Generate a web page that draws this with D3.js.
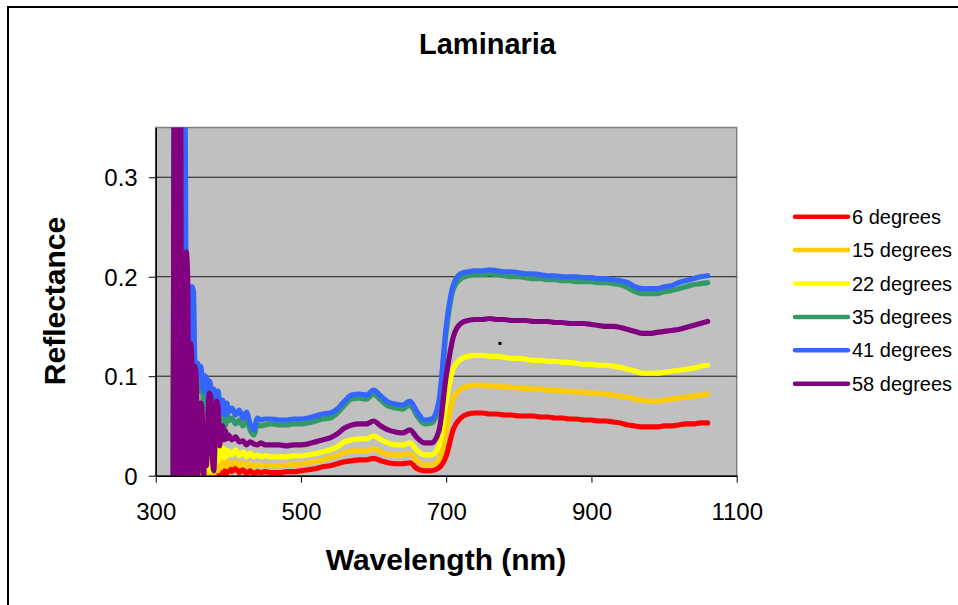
<!DOCTYPE html>
<html>
<head>
<meta charset="utf-8">
<script src="https://cdn.jsdelivr.net/npm/d3@7/dist/d3.min.js"></script>
<style>
  body { margin: 0; background: #fff; }
  svg { display: block; font-family: "Liberation Sans", Arial, sans-serif; }
</style>
</head>
<body>
<svg id="chart"></svg>
<script>
// wavelength grid (nm): fine steps in the noisy UV part, coarser later
const wavelengths = [
  324, 326, 328, 330, 332, 334, 336, 338, 340, 342, 344, 346, 348, 350, 352, 354, 356, 358, 360, 362,
  364, 366, 368, 370, 372, 374, 376, 378, 380, 382, 384, 386, 388, 390, 392, 394, 396, 398, 400,
  405, 410, 415, 420, 425, 430, 435, 440, 445, 450,
  460, 470, 480, 490, 500, 510, 520, 530, 540, 550, 560, 570, 580, 590, 600, 610, 620, 630, 640, 650,
  660, 670, 680, 690, 700, 710, 720, 730, 740, 750, 760, 770, 780, 790, 800, 810, 820, 830, 840, 850,
  860, 870, 880, 890, 900, 910, 920, 930, 940, 950, 960, 970, 980, 990, 1000, 1010, 1020, 1030, 1040, 1050,
  1060
];

const deg6 = [
  0, 0.2, 0, 0.25, 0, 0.2, 0, 0, -0.01, 0, -0.01, 0, -0.01, 0, -0.01, 0, -0.01, 0, -0.01, 0,
  -0.01, 0, -0.01, 0.002, -0.01, 0, -0.01, 0.003, -0.01, 0.004, -0.005, 0, -0.005, 0, 0.005, 0, 0.008, 0.002, 0.009,
  0.004, 0.008, 0.003, 0.006, 0.002, 0.005, 0.002, 0.004, 0.003, 0.004,
  0.003, 0.003, 0.004, 0.004, 0.005, 0.006, 0.007, 0.009, 0.010, 0.012, 0.014, 0.015, 0.016, 0.016, 0.0175, 0.015, 0.013, 0.012, 0.012, 0.013,
  0.007, 0.005, 0.005, 0.008, 0.020, 0.047, 0.058, 0.062, 0.063, 0.063, 0.062, 0.062, 0.061, 0.061, 0.060, 0.060, 0.060, 0.059, 0.059, 0.058,
  0.058, 0.057, 0.057, 0.056, 0.056, 0.055, 0.055, 0.054, 0.053, 0.051, 0.050, 0.049, 0.049, 0.049, 0.050, 0.050, 0.051, 0.052, 0.052, 0.053,
  0.053
];

const deg15 = [
  0, 0.3, 0, 0.35, 0, 0.25, 0, 0.03, 0, 0.005, 0, 0.015, 0, 0.012, 0, 0.01, 0, 0.015, 0, 0.01,
  0, 0.012, 0, 0.01, 0, 0.015, 0.005, 0.012, 0, 0.025, 0.02, 0.005, 0.018, 0.008, 0.016, 0.01, 0.015, 0.009, 0.014,
  0.011, 0.014, 0.010, 0.013, 0.010, 0.012, 0.009, 0.011, 0.010, 0.010,
  0.010, 0.010, 0.011, 0.011, 0.012, 0.013, 0.014, 0.016, 0.018, 0.020, 0.023, 0.025, 0.025, 0.025, 0.027, 0.024, 0.021, 0.021, 0.021, 0.022,
  0.015, 0.011, 0.011, 0.016, 0.045, 0.078, 0.087, 0.090, 0.091, 0.091, 0.090, 0.090, 0.089, 0.089, 0.088, 0.088, 0.087, 0.087, 0.086, 0.086,
  0.085, 0.085, 0.084, 0.084, 0.083, 0.083, 0.082, 0.081, 0.080, 0.079, 0.077, 0.076, 0.075, 0.075, 0.076, 0.077, 0.078, 0.079, 0.080, 0.081,
  0.082
];

const deg22 = [
  0, 0.35, 0, 0.4, 0, 0.3, 0, 0.05, 0, 0.01, 0, 0.028, 0.02, 0, 0.025, 0.005, 0.02, 0, 0.015, 0.022,
  0, 0.018, 0.005, 0.02, 0.01, 0.025, 0.005, 0.02, 0.01, 0.045, 0.04, 0.015, 0.03, 0.02, 0.028, 0.018, 0.026, 0.02, 0.025,
  0.021, 0.026, 0.020, 0.024, 0.019, 0.023, 0.019, 0.021, 0.019, 0.020,
  0.019, 0.019, 0.019, 0.020, 0.020, 0.021, 0.022, 0.024, 0.026, 0.029, 0.034, 0.036, 0.037, 0.037, 0.040, 0.036, 0.033, 0.031, 0.031, 0.033,
  0.025, 0.021, 0.021, 0.030, 0.075, 0.108, 0.117, 0.120, 0.121, 0.121, 0.120, 0.120, 0.119, 0.118, 0.118, 0.117, 0.116, 0.116, 0.115, 0.115,
  0.114, 0.114, 0.113, 0.112, 0.112, 0.111, 0.111, 0.110, 0.109, 0.107, 0.105, 0.103, 0.103, 0.103, 0.104, 0.105, 0.106, 0.107, 0.108, 0.110,
  0.111
];

const deg35 = [
  0, 0.4, 0, 0.45, 0, 0.45, 0.03, 0.15, 0.3, 0.1, 0.11, 0.08, 0.12, 0.17, 0.15, 0.1, 0.095, 0.1, 0.085, 0.1,
  0.095, 0.07, 0.1, 0.09, 0.06, 0.088, 0.072, 0.05, 0.08, 0.075, 0.052, 0.078, 0.062, 0.05, 0.068, 0.06, 0.05, 0.064, 0.055,
  0.058, 0.052, 0.056, 0.050, 0.055, 0.046, 0.041, 0.051, 0.050, 0.051,
  0.052, 0.051, 0.051, 0.052, 0.052, 0.053, 0.055, 0.057, 0.058, 0.063, 0.071, 0.077, 0.078, 0.077, 0.082, 0.076, 0.070, 0.068, 0.067, 0.071,
  0.060, 0.052, 0.053, 0.070, 0.145, 0.188, 0.198, 0.201, 0.202, 0.202, 0.203, 0.202, 0.201, 0.200, 0.200, 0.199, 0.198, 0.198, 0.197, 0.197,
  0.196, 0.196, 0.195, 0.195, 0.195, 0.194, 0.194, 0.193, 0.192, 0.189, 0.185, 0.183, 0.183, 0.183, 0.185, 0.186, 0.188, 0.190, 0.192, 0.193,
  0.194
];

const deg41 = [
  0, 0.42, 0.03, 0.45, 0.02, 0.45, 0.05, 0.2, 0.45, 0.15, 0.12, 0.1, 0.13, 0.19, 0.185, 0.115, 0.11, 0.113, 0.1, 0.11,
  0.098, 0.085, 0.1, 0.098, 0.075, 0.095, 0.088, 0.065, 0.087, 0.082, 0.063, 0.085, 0.072, 0.062, 0.076, 0.07, 0.061, 0.073, 0.064,
  0.068, 0.061, 0.066, 0.058, 0.064, 0.052, 0.046, 0.058, 0.056, 0.057,
  0.057, 0.056, 0.056, 0.057, 0.057, 0.058, 0.060, 0.062, 0.063, 0.067, 0.075, 0.081, 0.082, 0.081, 0.086, 0.080, 0.074, 0.072, 0.071, 0.075,
  0.064, 0.056, 0.057, 0.075, 0.150, 0.192, 0.203, 0.205, 0.206, 0.206, 0.207, 0.206, 0.205, 0.205, 0.204, 0.203, 0.203, 0.202, 0.201, 0.201,
  0.200, 0.200, 0.200, 0.199, 0.199, 0.198, 0.198, 0.197, 0.196, 0.194, 0.190, 0.188, 0.188, 0.188, 0.190, 0.191, 0.194, 0.196, 0.198, 0.200,
  0.201
];

const deg58 = [
  0, 0.45, 0, 0.45, 0, 0.45, 0, 0.17, 0, 0.225, 0.2, 0, 0.133, 0.11, 0, 0.11, 0.095, 0, 0.06, 0.073,
  0.065, 0, 0.03, 0.01, 0.06, 0.083, 0.078, 0.02, 0.005, 0.04, 0.075, 0.068, 0.03, 0.048, 0.05, 0.036, 0.045, 0.037, 0.041,
  0.036, 0.039, 0.034, 0.035, 0.031, 0.034, 0.032, 0.031, 0.033, 0.031,
  0.031, 0.031, 0.030, 0.031, 0.031, 0.032, 0.034, 0.036, 0.038, 0.042, 0.048, 0.051, 0.052, 0.052, 0.055, 0.050, 0.046, 0.044, 0.043, 0.046,
  0.038, 0.033, 0.033, 0.045, 0.100, 0.140, 0.153, 0.156, 0.157, 0.157, 0.158, 0.157, 0.157, 0.156, 0.156, 0.156, 0.155, 0.155, 0.155, 0.154,
  0.154, 0.153, 0.153, 0.153, 0.152, 0.151, 0.150, 0.150, 0.149, 0.147, 0.145, 0.143, 0.143, 0.144, 0.145, 0.146, 0.147, 0.149, 0.151, 0.153,
  0.155
];

const seriesNames = ["6 degrees", "15 degrees", "22 degrees", "35 degrees", "41 degrees", "58 degrees"];
const seriesColors = ["#FF0000", "#FFCC00", "#FFFF00", "#339966", "#3366FF", "#800080"];
const seriesValues = [deg6, deg15, deg22, deg35, deg41, deg58];

const xTicks = [300, 500, 700, 900, 1100];
const yTicks = [0, 0.1, 0.2, 0.3];
const yTickLabels = ["0", "0.1", "0.2", "0.3"];

// a stray black mark that sits inside the plot
const strayMarks = [[774, 0.133]];

const WIDTH = 958, HEIGHT = 605;
const plot = {left: 155.7, right: 736.7, top: 127.5, bottom: 475.7};

const svg = d3.select("#chart").attr("width", WIDTH).attr("height", HEIGHT);

// outer chart frame (right/bottom edges fall outside the picture)
svg.append("rect")
  .attr("x", 8).attr("y", 7)
  .attr("width", WIDTH + 20).attr("height", HEIGHT + 20)
  .attr("fill", "#fff")
  .attr("stroke", "#000")
  .attr("stroke-width", 2);

const x = d3.scaleLinear().domain([300, 1100]).range([plot.left, plot.right]);
const y = d3.scaleLinear().domain([0, 0.35]).range([plot.bottom, plot.top]);

svg.append("rect")
  .attr("x", plot.left).attr("y", plot.top)
  .attr("width", plot.right - plot.left).attr("height", plot.bottom - plot.top)
  .attr("fill", "#C0C0C0")
  .attr("stroke", "#808080")
  .attr("stroke-width", 1.5);

// gridlines
svg.append("g").selectAll("line")
  .data(yTicks.filter(d => d > 0))
  .enter()
  .append("line")
  .attr("x1", plot.left).attr("x2", plot.right)
  .attr("y1", d => y(d)).attr("y2", d => y(d))
  .attr("stroke", "#1a1a1a")
  .attr("stroke-width", 1);

svg.append("defs").append("clipPath").attr("id", "plotClip")
  .append("rect")
  .attr("x", plot.left).attr("y", plot.top)
  .attr("width", plot.right - plot.left).attr("height", plot.bottom - plot.top);

const line = d3.line()
  .x(d => x(d[0]))
  .y(d => y(d[1]))
  .curve(d3.curveMonotoneX);

const lines = svg.append("g").attr("clip-path", "url(#plotClip)");
seriesValues.forEach((values, i) => {
  const pts = wavelengths.map((w, j) => [w, values[j]]);
  lines.append("path")
    .datum(pts)
    .attr("d", line)
    .attr("fill", "none")
    .attr("stroke", seriesColors[i])
    .attr("stroke-width", 5.2)
    .attr("stroke-linejoin", "round")
    .attr("stroke-linecap", "round");
});

lines.selectAll("rect.stray")
  .data(strayMarks)
  .enter()
  .append("rect")
  .attr("class", "stray")
  .attr("x", d => x(d[0]) - 1.5)
  .attr("y", d => y(d[1]) - 1.5)
  .attr("width", 3).attr("height", 3)
  .attr("fill", "#000");

// axes
const xAxis = svg.append("g")
  .attr("transform", "translate(0," + plot.bottom + ")")
  .call(d3.axisBottom(x).tickValues(xTicks).tickFormat(d3.format("d"))
    .tickSize(7).tickSizeOuter(0).tickPadding(20));

const yAxis = svg.append("g")
  .attr("transform", "translate(" + plot.left + ",0)")
  .call(d3.axisLeft(y).tickValues(yTicks).tickFormat((d, i) => yTickLabels[i])
    .tickSize(7).tickSizeOuter(0).tickPadding(11));

[xAxis, yAxis].forEach(g => {
  g.select(".domain").attr("stroke", "#000").attr("stroke-width", 1.5);
  g.selectAll(".tick line").attr("stroke", "#000").attr("stroke-width", 1);
  g.selectAll("text")
    .attr("fill", "#000")
    .style("font-family", "'Liberation Sans', Arial, sans-serif")
    .style("font-size", "24px");
});
yAxis.selectAll("text").attr("dy", "0.35em");

// titles
svg.append("text")
  .attr("x", 487.5).attr("y", 54)
  .attr("text-anchor", "middle")
  .style("font-size", "29px").style("font-weight", "bold")
  .text("Laminaria");

svg.append("text")
  .attr("x", 446).attr("y", 570)
  .attr("text-anchor", "middle")
  .style("font-size", "30px").style("font-weight", "bold")
  .text("Wavelength (nm)");

svg.append("text")
  .attr("transform", "translate(65,301) rotate(-90)")
  .attr("text-anchor", "middle")
  .style("font-size", "30px").style("font-weight", "bold")
  .text("Reflectance");

// legend
const legend = svg.append("g").selectAll("g")
  .data(seriesNames)
  .enter()
  .append("g")
  .attr("transform", (d, i) => "translate(795," + (216.7 + i * 33.4) + ")");

legend.append("line")
  .attr("x1", 0).attr("x2", 53)
  .attr("stroke", (d, i) => seriesColors[i])
  .attr("stroke-width", 4.5)
  .attr("stroke-linecap", "round");

legend.append("text")
  .attr("x", 57).attr("y", 7)
  .style("font-size", "20px")
  .text(d => d);
</script>
</body>
</html>
